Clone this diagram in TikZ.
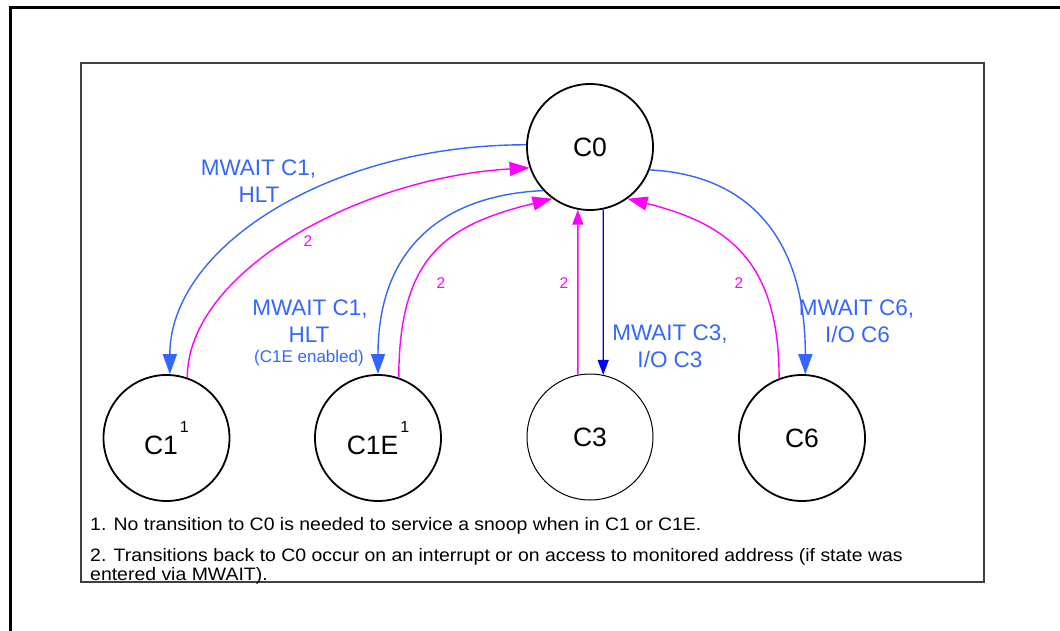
\documentclass[tikz,border=0pt]{standalone}
\usepackage{fontspec}
\setmainfont{Liberation Sans}
\newfontfamily\notefont[FakeStretch=1.08]{Liberation Sans}
\usetikzlibrary{arrows.meta}
\definecolor{lblue}{RGB}{51,102,255}
\definecolor{mag}{RGB}{255,0,255}
\definecolor{pblue}{RGB}{0,0,255}
\begin{document}
\begin{tikzpicture}[x=1pt,y=-1pt,
  state/.style={circle,draw=black,line width=1.8pt,minimum size=126pt,inner sep=0pt,
    font=\fontsize{26.5}{30}\selectfont},
  thinstate/.style={state,line width=1pt},
  bluearc/.style={draw=lblue,line width=1.4pt,-{Triangle[length=20pt,width=14pt]}},
  magarc/.style={draw=mag,line width=1.4pt,-{Triangle[length=20pt,width=14pt]}},
  magstraight/.style={draw=mag,line width=1.4pt,-{Triangle[length=15pt,width=11pt]}},
  pbluestraight/.style={draw=pblue,line width=1.4pt,-{Triangle[length=15pt,width=11pt]}},
  blbl/.style={text=lblue,font=\fontsize{22.5}{27}\selectfont,anchor=base,inner sep=0pt},
  smlbl/.style={text=lblue,font=\fontsize{17}{20}\selectfont,anchor=base,inner sep=0pt},
  two/.style={text=mag,font=\fontsize{15.5}{18}\selectfont,inner sep=0pt},
  note/.style={font=\notefont\fontsize{18}{20}\selectfont,anchor=base west,inner sep=0pt}]
\useasboundingbox (0,0) rectangle (1060,631);
% outer frame (continues beyond the picture)
\draw[line width=3pt,line join=miter] (10,650) -- (10,8) -- (1075,8);
% inner frame
\draw[line width=2pt,draw=black!75] (81,63) rectangle (984,582);

% states
\node[state] (C0) at (590,147) {C0};
\node[state] (C1) at (166.5,438) {C1\hspace{2pt}\raisebox{22pt}{\fontsize{16}{16}\selectfont 1}};
\node[state] (C1E) at (378,438) {C1E\hspace{2pt}\raisebox{22pt}{\fontsize{16}{16}\selectfont 1}};
\node[thinstate] (C3) at (590,437) {C3};
\node[state] (C6) at (802,438) {C6};

% transitions
\draw[bluearc] (C0.178) .. controls +(-197,0) and +(0,-127) .. (C1.87);
\draw[magarc] (C1.71) .. controls +(0,-105) and +(-172,10) .. (C0.199);
\draw[bluearc] (C0.223) .. controls +(-107,5) and +(0,-120) .. (C1E.90);
\draw[magarc] (C1E.71) .. controls +(0,-124) and +(-104,26) .. (C0.234);
\draw[magstraight] (C3.101) -- (C0.259);
\draw[pbluestraight] (C0.282) -- (C3.78);
\draw[bluearc] (C0.339) .. controls +(100,5) and +(0,-135) .. (C6.87);
\draw[magarc] (C6.111) .. controls +(0,-118) and +(100,25) .. (C0.306);

% labels
\node[blbl] (t1a) at (258.5,176) {MWAIT C1,};
\node[blbl] (t1b) at (259,203) {HLT};
\node[blbl] (t2a) at (310,315) {MWAIT C1,};
\node[blbl] (t2b) at (309,342) {HLT};
\node[smlbl] (t2c) at (309,362) {(C1E enabled)};
\node[blbl] (t3a) at (670,340) {MWAIT C3,};
\node[blbl] (t3b) at (670,367) {I/O C3};
\node[blbl] (t4a) at (856.5,315) {MWAIT C6,};
\node[blbl] (t4b) at (857.5,342) {I/O C6};

\node[two] (n1) at (308,241) {2};
\node[two] (n2) at (441,283) {2};
\node[two] (n3) at (564,283) {2};
\node[two] (n4) at (739,283) {2};

% footnotes
\node[note] (f1) at (90,530) {1. No transition to C0 is needed to service a snoop when in C1 or C1E.};
\node[note] (f2) at (90,561) {2. Transitions back to C0 occur on an interrupt or on access to monitored address (if state was};
\node[note] (f3) at (90,580) {entered via MWAIT).};
\end{tikzpicture}
\end{document}
